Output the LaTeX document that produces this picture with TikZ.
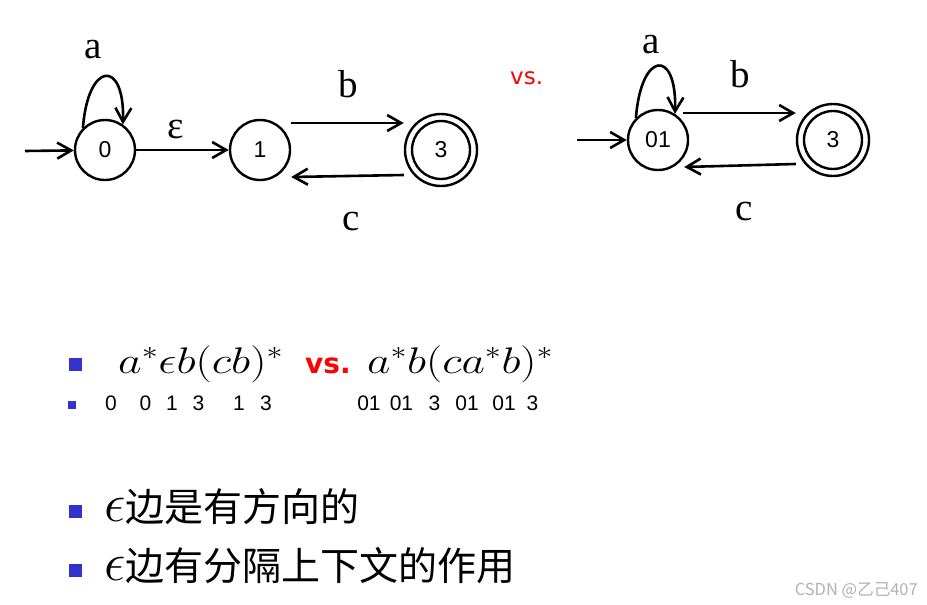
\RequirePackage{fix-cm}
\documentclass[tikz,border=0pt]{standalone}
\usepackage{fontspec}
\setmainfont{Liberation Serif}
\newfontfamily\sansf{Liberation Sans}
\newfontfamily\dvf{DejaVu Sans}
\newfontfamily\cjkf{Noto Sans CJK SC}
\usepackage{graphicx}
\usetikzlibrary{arrows.meta}
\definecolor{bulletblue}{RGB}{51,51,204}
\definecolor{vsred}{RGB}{255,0,0}
\begin{document}
\begin{tikzpicture}[x=1pt,y=-1pt,
  stnode/.style={circle,draw,line width=2.4pt,inner sep=0pt,minimum size=60pt,font=\sansf\fontsize{23}{23}\selectfont},
  accouter/.style={circle,draw,line width=2.4pt,inner sep=0pt,minimum size=72pt},
  accinner/.style={stnode,minimum size=58pt},
  tr/.style={line width=2.6pt,-{Straight Barb[length=14pt,width=16pt]}},
  lab/.style={anchor=base,inner sep=0pt,font=\fontsize{39}{39}\selectfont},
  bul/.style={fill=bulletblue,inner sep=0pt,minimum size=13pt},
  sbul/.style={fill=bulletblue,inner sep=0pt,minimum size=8pt},
  num/.style={anchor=base,inner sep=0pt,font=\sansf\fontsize{21}{21}\selectfont},
  vstop/.style={anchor=base west,inner sep=0pt,text=vsred,font=\dvf\fontsize{23}{23}\selectfont},
  vsbig/.style={anchor=base west,inner sep=0pt,text=vsred,font=\dvf\bfseries\fontsize{28}{28}\selectfont},
  formula/.style={anchor=base west,inner sep=0pt,font=\fontsize{37}{37}\selectfont},
  cjkline/.style={anchor=base west,inner sep=0pt}
]
\fill[white] (0,0) rectangle (927,605);
\useasboundingbox (0,0) rectangle (927,605);

% ---- left automaton ----
\node[stnode] (s0) at (105,150) {0};
\node[stnode] (s1) at (260,150) {1};
\node[accouter] (s3) at (441,150) {};
\node[accinner] (s3in) at (441,150) {3};
\coordinate (i0) at (25,151);

\draw[tr] (i0) -- (s0);
\draw[tr] (s0) -- (s1);
\draw[tr] ([yshift=27pt]s1.east) -- ([yshift=27pt]s3.west);
\draw[tr] ([yshift=-25pt]s3.west) -- ([yshift=-27pt]s1.east);
\draw[tr] (s0.135) .. controls +(5,-67) and +(2,-66) .. (s0.55);

\node[lab] (la) at (93.5,58) {a};
\node[lab] (leps) at (176,138) {ε};
\node[lab] (lb) at (348.5,97) {b};
\node[lab] (lc) at (351.5,230) {c};

\node[vstop] (vs1) at (510,84) {vs.};

% ---- right automaton ----
\node[stnode] (s01) at (658,140) {01};
\node[accouter] (t3) at (833,140) {};
\node[accinner] (t3in) at (833,140) {3};
\coordinate (i1) at (577,140);

\draw[tr] (i1) -- (s01);
\draw[tr] ([xshift=-6pt,yshift=27pt]s01.east) -- ([yshift=27pt]t3.west);
\draw[tr] ([yshift=-24pt]t3.west) -- ([xshift=-5pt,yshift=-27pt]s01.east);
\draw[tr] (s01.135) .. controls +(5,-67) and +(2,-66) .. (s01.57);

\node[lab] (ra) at (651,53) {a};
\node[lab] (rb) at (740,87) {b};
\node[lab] (rc) at (744.5,220) {c};

% ---- formulas ----
\node[bul] (b1) at (75.5,364.5) {};
\node[formula] (f1) at (118,373) {\resizebox{165pt}{\height}{$a^*\epsilon b(cb)^*$}};
\node[vsbig] (vs2) at (305,373) {vs.};
\node[formula] (f2) at (367,373) {\resizebox{186pt}{\height}{$a^*b(ca^*b)^*$}};

\node[sbul] (b2) at (72,404.5) {};
\node[num] (n1) at (111,410) {0};
\node[num] (n2) at (145.5,410) {0};
\node[num] (n3) at (172,410) {1};
\node[num] (n4) at (198.5,410) {3};
\node[num] (n5) at (239,410) {1};
\node[num] (n6) at (266,410) {3};
\node[num] (m1) at (369,410) {01};
\node[num] (m2) at (401.5,410) {01};
\node[num] (m3) at (434.5,410) {3};
\node[num] (m4) at (467,410) {01};
\node[num] (m5) at (504,410) {01};
\node[num] (m6) at (532.5,410) {3};

% ---- bottom bullets ----
\node[bul] (b3) at (75.5,511) {};
\node[cjkline] (t1) at (104,521) {{\fontsize{54}{54}\selectfont$\epsilon$}{\cjkf\fontsize{39}{39}\selectfont 边是有方向的}};
\node[bul] (b4) at (75.5,570.5) {};
\node[cjkline] (t2) at (104,580) {{\fontsize{54}{54}\selectfont$\epsilon$}{\cjkf\fontsize{39}{39}\selectfont 边有分隔上下文的作用}};

\node[anchor=base east,inner sep=0pt,text=black!30,font=\cjkf\fontsize{16.5}{16.5}\selectfont] (wm) at (918,595) {CSDN @乙己407};
\end{tikzpicture}
\end{document}
